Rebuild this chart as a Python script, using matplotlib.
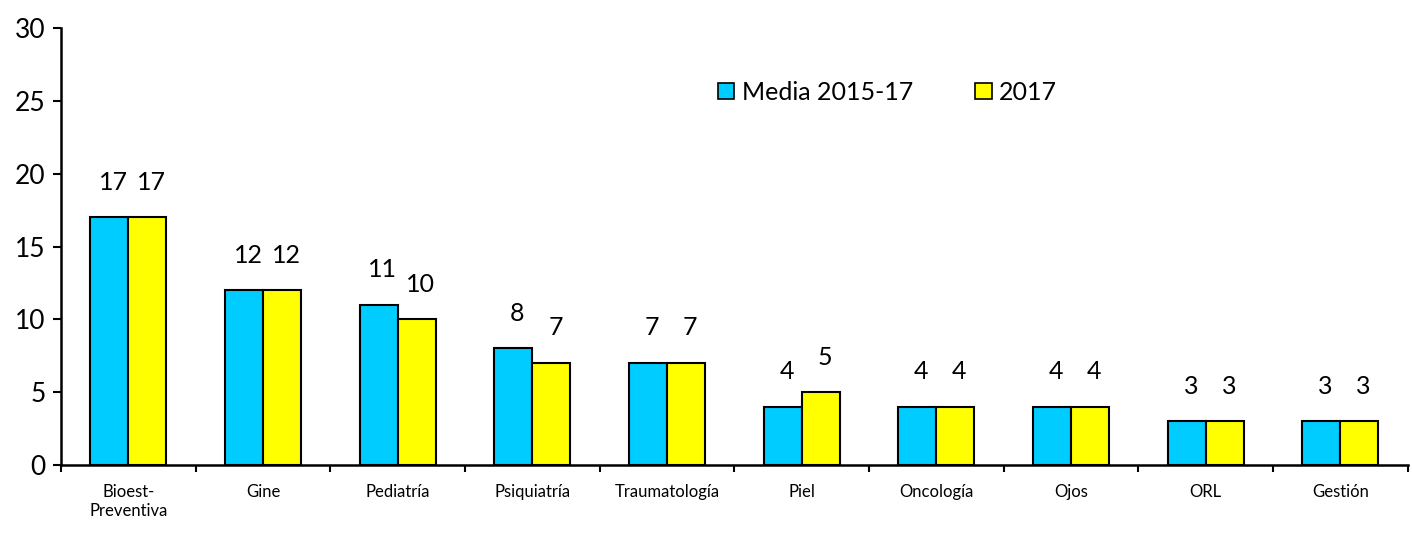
import matplotlib.pyplot as plt
import numpy as np

# ---------------------------------------------------------------------------
# Data
# ---------------------------------------------------------------------------

CATEGORIES = ["Bioest-\nPreventiva", "Gine", "Pediatría", "Psiquiatría",
              "Traumatología", "Piel", "Oncología", "Ojos", "ORL", "Gestión"]
MEDIA_2015_17 = [17, 12, 11, 8, 7, 4, 4, 4, 3, 3]
YEAR_2017     = [17, 12, 10, 7, 7, 5, 4, 4, 3, 3]
SERIES_NAMES  = ["Media 2015-17", "2017"]

CYAN   = "#00CCFF"
YELLOW = "#FFFF00"
FONT   = ["Lato", "DejaVu Sans"]

# ---------------------------------------------------------------------------
# Plot
# ---------------------------------------------------------------------------

plt.rcParams["font.family"] = FONT

fig = plt.figure(figsize=(14.12, 5.41), dpi=100)
ax = fig.add_axes([0.0432, 0.1405, 0.9538, 0.8075])

x = np.arange(len(CATEGORIES)) + 0.5
w = 0.282
kw = dict(edgecolor="black", linewidth=1.5, zorder=3)
b1 = ax.bar(x - w / 2, MEDIA_2015_17, w, color=CYAN, label=SERIES_NAMES[0], **kw)
b2 = ax.bar(x + w / 2, YEAR_2017, w, color=YELLOW, label=SERIES_NAMES[1], **kw)

for bars in (b1, b2):
    for rect in bars:
        h = rect.get_height()
        ax.annotate(f"{h:g}", (rect.get_x() + rect.get_width() / 2 + 0.03, h),
                    xytext=(0, 17), textcoords="offset points",
                    ha="center", va="bottom", fontsize=18)

ax.set_xlim(0, len(CATEGORIES))
ax.set_ylim(0, 30)
ax.set_yticks(range(0, 31, 5))
ax.set_xticks(range(0, len(CATEGORIES) + 1))
ax.set_xticklabels([])
ax.set_xticks(x, minor=True)
ax.set_xticklabels(CATEGORIES, minor=True, fontsize=12)
ax.tick_params(axis="x", which="minor", length=0, pad=14)
ax.tick_params(axis="x", which="major", direction="out", length=5, width=1.5)
ax.tick_params(axis="y", direction="out", length=6, width=1.5, labelsize=19, pad=5)

for side in ("top", "right"):
    ax.spines[side].set_visible(False)
for side in ("left", "bottom"):
    ax.spines[side].set_linewidth(1.8)

leg = ax.legend(loc="center left", bbox_to_anchor=(0.471, 0.853), ncol=2,
                frameon=False, fontsize=18, handlelength=0.65, handleheight=0.65,
                handletextpad=0.3, columnspacing=2.5)
for patch in leg.get_patches():
    patch.set_linewidth(1.2)

fig.savefig("out.png", dpi=100)
